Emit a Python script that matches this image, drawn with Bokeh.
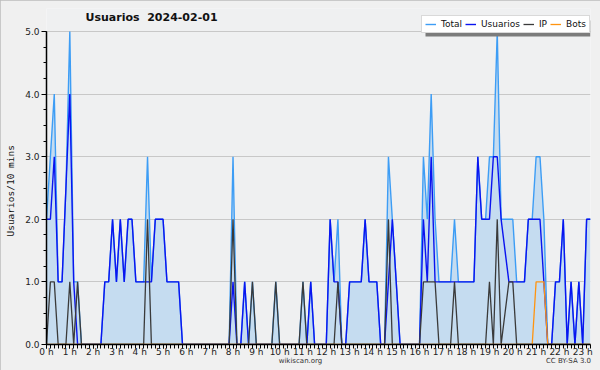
from bokeh.plotting import figure
from bokeh.models import (Range1d, FixedTicker, Legend, LegendItem, Label,
                          BoxAnnotation, ColumnDataSource, LinearAxis)
from bokeh.embed import file_html
from bokeh.resources import INLINE

# ---------------- data ----------------
title_text = "Usuarios  2024-02-01"
y_label = "Usuarios/10 mins"
footer_text = "wikiscan.org"
license_text = "CC BY-SA 3.0"

hours = list(range(24))
hour_labels = [f"{h} h" for h in hours]
y_ticks = [0, 1, 2, 3, 4, 5]
y_tick_labels = ["0.0", "1.0", "2.0", "3.0", "4.0", "5.0"]

# one sample every 10 minutes (minutes since midnight)
minutes = list(range(0, 1410, 10))

usuarios = [2, 2, 3, 1, 1, 2.5, 4, 1, 0, 0,
            0, 0, 0, 0, 0, 1, 1, 2, 1, 2,
            1, 2, 2, 1, 1, 1, 1, 1, 2, 2,
            2, 1, 1, 1, 1, 0, 0, 0, 0, 0,
            0, 0, 0, 0, 0, 0, 0, 0, 1, 0,
            0, 1, 0, 0, 0, 0, 0, 0, 0, 0,
            0, 0, 0, 0, 0, 0, 0, 0, 1, 0,
            0, 0, 0, 2, 1, 1, 0, 0, 1, 1,
            1, 1, 2, 1, 1, 1, 0, 0, 1, 2,
            1, 0, 0, 0, 0, 0, 0, 2, 1, 3,
            1, 1, 1, 1, 1, 1, 1, 1, 1, 1,
            1, 3, 2, 2, 2, 3, 3, 2, 1.5, 1,
            1, 1, 1, 1, 2, 2, 2, 2, 1, 0,
            0, 1, 1, 2, 0, 1, 0, 1, 0, 2, 2]

ip = [0, 1, 1, 0, 0, 0, 1, 0, 1, 0,
      0, 0, 0, 0, 0, 0, 0, 0, 0, 0,
      0, 0, 0, 0, 0, 0, 2, 0, 0, 0,
      0, 0, 0, 0, 0, 0, 0, 0, 0, 0,
      0, 0, 0, 0, 0, 0, 0, 0, 2, 0,
      0, 0, 0, 1, 0, 0, 0, 0, 0, 1,
      0, 0, 0, 0, 0, 0, 1, 0, 0, 0,
      0, 0, 0, 0, 0, 1, 0, 0, 0, 0,
      0, 0, 0, 0, 0, 0, 0, 0, 2, 0,
      0, 0, 0, 0, 0, 0, 0, 1, 1, 1,
      1, 0, 0, 0, 0, 1, 0, 0, 0, 0,
      0, 0, 0, 0, 1, 0, 2, 0, 0.5, 1,
      1, 0, 0, 0, 0, 0, 0, 0, 0, 0,
      0, 0, 0, 0, 0, 0, 0, 0, 0, 0, 0]

bots = [0, 0, 0, 0, 0, 0, 0, 0, 0, 0,
        0, 0, 0, 0, 0, 0, 0, 0, 0, 0,
        0, 0, 0, 0, 0, 0, 0, 0, 0, 0,
        0, 0, 0, 0, 0, 0, 0, 0, 0, 0,
        0, 0, 0, 0, 0, 0, 0, 0, 0, 0,
        0, 0, 0, 0, 0, 0, 0, 0, 0, 0,
        0, 0, 0, 0, 0, 0, 0, 0, 0, 0,
        0, 0, 0, 0, 0, 0, 0, 0, 0, 0,
        0, 0, 0, 0, 0, 0, 0, 0, 0, 0,
        0, 0, 0, 0, 0, 0, 0, 0, 0, 0,
        0, 0, 0, 0, 0, 0, 0, 0, 0, 0,
        0, 0, 0, 0, 0, 0, 0, 0, 0, 0,
        0, 0, 0, 0, 0, 0, 1, 1, 1, 0,
        0, 0, 0, 0, 0, 0, 0, 0, 0, 0, 0]

total = [2, 3, 4, 1, 1, 2.5, 5, 1, 1, 0,
         0, 0, 0, 0, 0, 1, 1, 2, 1, 2,
         1, 2, 2, 1, 1, 1, 3, 1, 2, 2,
         2, 1, 1, 1, 1, 0, 0, 0, 0, 0,
         0, 0, 0, 0, 0, 0, 0, 0, 3, 0,
         0, 1, 0, 1, 0, 0, 0, 0, 0, 1,
         0, 0, 0, 0, 0, 0, 1, 0, 1, 0,
         0, 0, 0, 2, 1, 2, 0, 0, 1, 1,
         1, 1, 2, 1, 1, 1, 0, 0, 3, 2,
         1, 0, 0, 0, 0, 0, 0, 3, 2, 4,
         2, 1, 1, 1, 1, 2, 1, 1, 1, 1,
         1, 3, 2, 2, 3, 3, 5, 2, 2, 2,
         2, 1, 1, 1, 2, 2, 3, 3, 2, 0,
         0, 1, 1, 2, 0, 1, 0, 1, 0, 2, 2]

# ---------------- layout constants ----------------
FONT = "DejaVu Sans"
FRAME_L, FRAME_R, FRAME_T, FRAME_B = 46, 590, 8, 344   # page pixels
PX_PER_UNIT = 313 / 5                                   # y: 5.0 sits at page y=31
hrs = [m / 60 for m in minutes]
px_per_hour = (FRAME_R - FRAME_L) / hrs[-1]
y_top = (FRAME_B - FRAME_T) / PX_PER_UNIT               # headroom above 5.0 for title/legend

src = ColumnDataSource(dict(h=hrs, total=total, usuarios=usuarios, ip=ip, bots=bots,
                            zero=[0] * len(hrs)))

p = figure(width=600, height=370, output_backend="svg", toolbar_location=None,
           x_range=Range1d(hrs[0], hrs[-1]), y_range=Range1d(0, y_top),
           min_border_left=FRAME_L, min_border_right=600 - FRAME_R,
           min_border_top=FRAME_T, min_border_bottom=370 - FRAME_B,
           styles={"outline": "2px solid #bcbcbc", "outline-offset": "-2px"})
p.background_fill_color = "#eff0f1"
p.border_fill_color = "#f0f0f0"
p.outline_line_color = None

p.varea(x="h", y1="zero", y2="total", source=src, fill_color="#c5dcf0", fill_alpha=1)
r_total = p.line("h", "total", source=src, line_color="#3d9df5", line_width=1.4)
r_user = p.line("h", "usuarios", source=src, line_color="#0a14f0", line_width=1.4)
r_ip = p.line("h", "ip", source=src, line_color="#3a3a3a", line_width=1.3)
r_bots = p.line("h", "bots", source=src, line_color="#ff9410", line_width=1.3)

# axes
xax = p.xaxis[0]
yax = p.yaxis[0]
xax.ticker = FixedTicker(ticks=hours, minor_ticks=hrs)
xax.major_label_overrides = {h: lab for h, lab in zip(hours, hour_labels)}
yax.ticker = FixedTicker(ticks=y_ticks, minor_ticks=[t / 4 for t in range(21)])
yax.major_label_overrides = {t: lab for t, lab in zip(y_ticks, y_tick_labels)}
yax.bounds = (0, 5)
for ax in (xax, yax):
    ax.axis_line_color = "black"
    ax.axis_line_width = 1.5
    ax.major_tick_line_color = "black"
    ax.minor_tick_line_color = "black"
    ax.major_tick_in = 0
    ax.minor_tick_in = 0
    ax.major_tick_out = 4
    ax.minor_tick_out = 4
    ax.major_label_text_font = FONT
    ax.major_label_text_font_size = "9px"
    ax.major_label_text_color = "#222222"
xax.major_label_standoff = -2
yax.major_label_standoff = 2
yax.major_tick_out = 5
yax.minor_tick_out = 3
# trailing no-break spaces shift the centred label down to the middle of 0..5
yax.axis_label = y_label + "\u00a0" * 5
yax.axis_label_text_font = "DejaVu Sans Mono"
yax.axis_label_text_font_size = "9.5px"
yax.axis_label_text_font_style = "normal"
yax.axis_label_text_color = "#111111"
yax.axis_label_standoff = 6

p.xgrid.grid_line_color = None
p.ygrid.grid_line_color = "#c8c8c8"
p.ygrid.grid_line_width = 1

# title (inside the top headroom of the frame)
p.add_layout(Label(x=85 - FRAME_L, y=FRAME_B - 17, x_units="screen", y_units="screen",
                   text=title_text.replace("  ", " \u00a0"),
                   text_font=FONT, text_font_size="11px", text_font_style="bold",
                   text_baseline="middle", text_color="#111111"))

# legend shadow + legend in the top-right corner
p.add_layout(BoxAnnotation(left=425 - FRAME_L, right=FRAME_R - FRAME_L,
                           top=FRAME_B - 20, bottom=FRAME_B - 36,
                           left_units="screen", right_units="screen",
                           top_units="screen", bottom_units="screen",
                           fill_color="#7c7c7c", fill_alpha=1, line_color=None))
legend = Legend(items=[LegendItem(label="Total", renderers=[r_total]),
                       LegendItem(label="Usuarios", renderers=[r_user]),
                       LegendItem(label="IP", renderers=[r_ip]),
                       LegendItem(label="Bots", renderers=[r_bots])],
                orientation="horizontal", location=(421 - FRAME_L, FRAME_B - 33))
legend.glyph_width = 11
legend.glyph_height = 10
legend.label_height = 10
legend.label_width = 4
legend.label_standoff = 5
legend.spacing = 3
legend.padding = 3
legend.margin = 0
legend.label_text_font = FONT
legend.label_text_font_size = "9px"
legend.label_text_color = "#111111"
legend.border_line_color = "#b4b4b4"
legend.border_line_width = 1
legend.background_fill_color = "white"
legend.background_fill_alpha = 1
p.add_layout(legend, "center")

# footer texts drawn as a label-only axis under the time axis
footer_pos = round((300 - FRAME_L) / px_per_hour, 3)
license_pos = round((568 - FRAME_L) / px_per_hour, 3)
fax = LinearAxis(ticker=FixedTicker(ticks=[footer_pos, license_pos]),
                 major_label_overrides={footer_pos: footer_text, license_pos: license_text})
fax.axis_line_color = None
fax.major_tick_line_color = None
fax.minor_tick_line_color = None
fax.major_tick_out = 0
fax.major_tick_in = 0
fax.minor_tick_out = 0
fax.minor_tick_in = 0
fax.major_label_standoff = -3
fax.major_label_text_font = FONT
fax.major_label_text_font_size = "7px"
fax.major_label_text_color = "#333333"
p.add_layout(fax, "below")

open("out.html", "w").write(file_html(p, INLINE))
